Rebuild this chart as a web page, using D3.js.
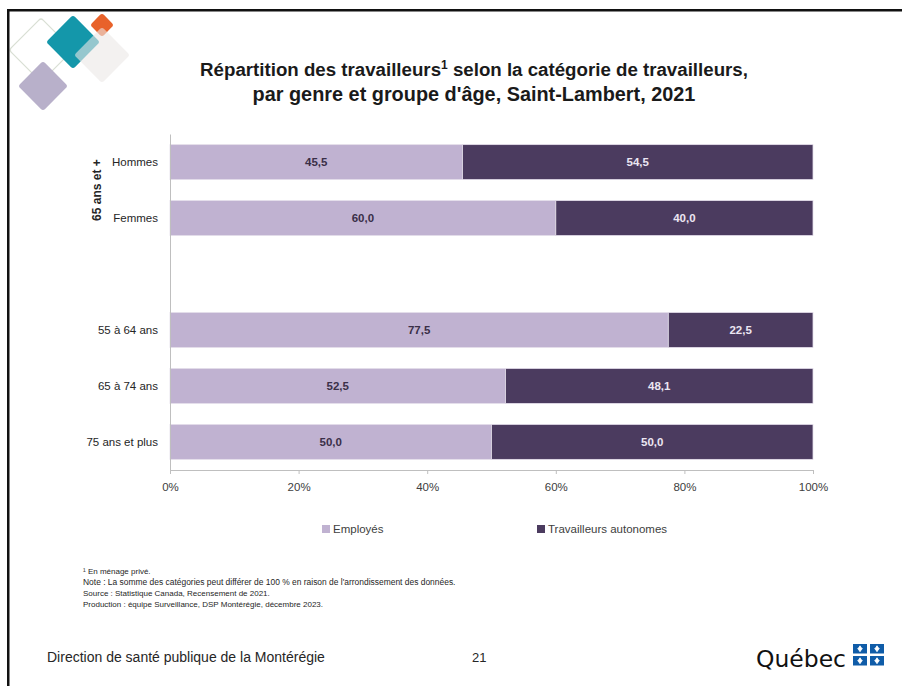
<!DOCTYPE html>
<html><head><meta charset="utf-8">
<script src="https://cdn.jsdelivr.net/npm/d3@7"></script>
<style>body{margin:0;background:#fff;} svg{display:block;}</style>
</head><body>
<svg id="chart" width="902" height="686"></svg>
<script>
// ---- Data ----
const categories = ["Hommes", "Femmes", "", "55 à 64 ans", "65 à 74 ans", "75 ans et plus"];
const employes = [45.5, 60.0, null, 77.5, 52.5, 50.0];
const autonomes = [54.5, 40.0, null, 22.5, 48.1, 50.0];
const seriesNames = ["Employés", "Travailleurs autonomes"];
const xTicks = [0, 0.2, 0.4, 0.6, 0.8, 1.0];
const groupLabel = "65 ans et +";
const titleLines = ["Répartition des travailleurs", "1", " selon la catégorie de travailleurs,", "par genre et groupe d'âge, Saint-Lambert, 2021"];
const footnotes = [
  "¹ En ménage privé.",
  "Note : La somme des catégories peut différer de 100 % en raison de l'arrondissement des données.",
  "Source : Statistique Canada, Recensement de 2021.",
  "Production : équipe Surveillance, DSP Montérégie, décembre 2023."
];
const footerLeft = "Direction de santé publique de la Montérégie";
const pageNum = "21";

const colors = ["#c0b2d1", "#4b3b5f"];
const labelColors = ["#3a2f48", "#ece6f2"];
const FONT = "'Liberation Sans', Arial, sans-serif";

const svg = d3.select("#chart");
svg.append("rect").attr("width", 902).attr("height", 686).attr("fill", "#fff");

// decorative diamonds
const deco = svg.append("g");
function diamond(cx, cy, r, fill, stroke, opacity) {
  const s = r * Math.SQRT2;
  deco.append("rect").attr("x", -s/2).attr("y", -s/2).attr("width", s).attr("height", s)
    .attr("rx", 3).attr("transform", `translate(${cx},${cy}) rotate(45)`)
    .attr("fill", fill).attr("stroke", stroke || "none").attr("stroke-width", 1.3)
    .attr("opacity", opacity == null ? 1 : opacity);
}
diamond(41, 50, 32, "none", "#d9dfd4");
diamond(43, 86, 25, "#b8b0ca");
diamond(73, 42, 27, "#1497aa");
diamond(102, 25, 12, "#e8622a");
diamond(102, 55, 28, "#ebe8e6", null, 0.6);

// frame lines (top & left)
svg.append("rect").attr("x", 7).attr("y", 9).attr("width", 895).attr("height", 2.5).attr("fill", "#111");
svg.append("rect").attr("x", 7).attr("y", 9).attr("width", 2.5).attr("height", 677).attr("fill", "#111");

// ---- Title ----
const title = svg.append("g").attr("font-family", FONT).attr("font-weight", "bold").attr("fill", "#1a1a1a");
const t1 = title.append("text").attr("x", 474).attr("y", 76).attr("text-anchor", "middle").attr("font-size", 18.5);
t1.append("tspan").text(titleLines[0]);
t1.append("tspan").attr("font-size", 12).attr("dy", -7).text(titleLines[1]);
t1.append("tspan").attr("dy", 7).text(titleLines[2]);
const t2 = title.append("text").attr("x", 474).attr("y", 101).attr("text-anchor", "middle").attr("font-size", 18.5).text(titleLines[3]);
function fitWidth(sel, w) {
  const cur = sel.node().getComputedTextLength();
  const fs = parseFloat(sel.attr("font-size"));
  sel.attr("font-size", fs * w / cur);
}
fitWidth(t1, 548);
fitWidth(t2, 443);

// ---- Chart ----
const margin = {left: 170, right: 813, top: 134, bottom: 470};
const x = d3.scaleLinear().domain([0, 1]).range([margin.left, margin.right]);
const y = d3.scaleBand().domain(categories.map((d, i) => i)).range([margin.top, margin.bottom]).paddingInner(0.375).paddingOuter(0.19);

const rows = categories.map((c, i) => ({i, c, e: employes[i], a: autonomes[i]})).filter(d => d.e != null);
const stack = d3.stack().keys(["e", "a"]).offset(d3.stackOffsetExpand);
const stacked = stack(rows);

const g = svg.append("g");
stacked.forEach((s, si) => {
  const sg = g.append("g");
  sg.selectAll("rect").data(s).join("rect")
    .attr("x", d => x(d[0])).attr("width", d => x(d[1]) - x(d[0]))
    .attr("y", d => y(d.data.i)).attr("height", y.bandwidth())
    .attr("fill", colors[si]).attr("stroke", "#e4deea").attr("stroke-width", 0.8);
  sg.selectAll("text").data(s).join("text")
    .attr("x", d => (x(d[0]) + x(d[1])) / 2).attr("y", d => y(d.data.i) + y.bandwidth() / 2 + 4)
    .attr("text-anchor", "middle").attr("font-family", FONT).attr("font-weight", "bold")
    .attr("font-size", 11.5).attr("fill", labelColors[si])
    .text(d => d3.format(".1f")(si === 0 ? d.data.e : d.data.a).replace(".", ","));
});

// axes
const xAxis = d3.axisBottom(x).tickValues(xTicks).tickFormat(d3.format(".0%")).tickSize(4).tickSizeOuter(0);
const xg = svg.append("g").attr("transform", `translate(0,${margin.bottom})`).call(xAxis);
xg.select(".domain").attr("stroke", "#bfbfbf");
xg.selectAll(".tick line").attr("stroke", "#bfbfbf");
xg.selectAll(".tick text").attr("font-family", FONT).attr("font-size", 11.5).attr("fill", "#404040").attr("dy", "1.25em");

const yAxis = d3.axisLeft(y).tickFormat(i => categories[i]).tickSize(0).tickPadding(12);
const yg = svg.append("g").attr("transform", `translate(${margin.left},0)`).call(yAxis);
yg.select(".domain").attr("stroke", "#bfbfbf");
yg.selectAll(".tick text").attr("font-family", FONT).attr("font-size", 11.5).attr("fill", "#262626");

// group label
const gy = (y(0) + y(1) + y.bandwidth()) / 2;
svg.append("text").attr("transform", `translate(101,${gy}) rotate(-90)`).attr("text-anchor", "middle")
  .attr("font-family", FONT).attr("font-weight", "bold").attr("font-size", 12).attr("fill", "#262626").text(groupLabel);

// legend
const legX = [322, 537];
seriesNames.forEach((n, i) => {
  svg.append("rect").attr("x", legX[i]).attr("y", 525).attr("width", 8).attr("height", 8).attr("fill", colors[i]);
  svg.append("text").attr("x", legX[i] + 11).attr("y", 533).attr("font-family", FONT).attr("font-size", 11.5).attr("fill", "#404040").text(n);
});

// footnotes
footnotes.forEach((f, i) => {
  const t = svg.append("text").attr("x", 83).attr("y", 574 + i * 11).attr("font-family", FONT).attr("font-size", 8).attr("fill", "#262626").text(f);
  if (i === 1) fitWidth(t, 373);
});

// footer
const fl = svg.append("text").attr("x", 47).attr("y", 662).attr("font-family", FONT).attr("font-size", 13).attr("fill", "#262626").text(footerLeft);
fitWidth(fl, 278);
svg.append("text").attr("x", 472).attr("y", 662).attr("font-family", FONT).attr("font-size", 13).attr("fill", "#262626").text(pageNum);

// Québec logo
const q = svg.append("text").attr("x", 756).attr("y", 667).attr("font-family", "'DejaVu Sans', sans-serif").attr("font-size", 26).attr("fill", "#111").text("Québec");
fitWidth(q, 90);
const flag = svg.append("g").attr("transform", "translate(853,644)");
[[0,0],[17,0],[0,12],[17,12]].forEach(([dx, dy]) => {
  flag.append("rect").attr("x", dx).attr("y", dy).attr("width", 14).attr("height", 9.5).attr("fill", "#0f5ca8");
  flag.append("path").attr("d", `M${dx+7},${dy+1.8} L${dx+9},${dy+4.7} L${dx+7},${dy+7.7} L${dx+5},${dy+4.7} Z M${dx+4.5},${dy+4.7} H${dx+9.5}`)
    .attr("fill", "#fff").attr("stroke", "#fff").attr("stroke-width", 0.8);
});
</script>
</body></html>
